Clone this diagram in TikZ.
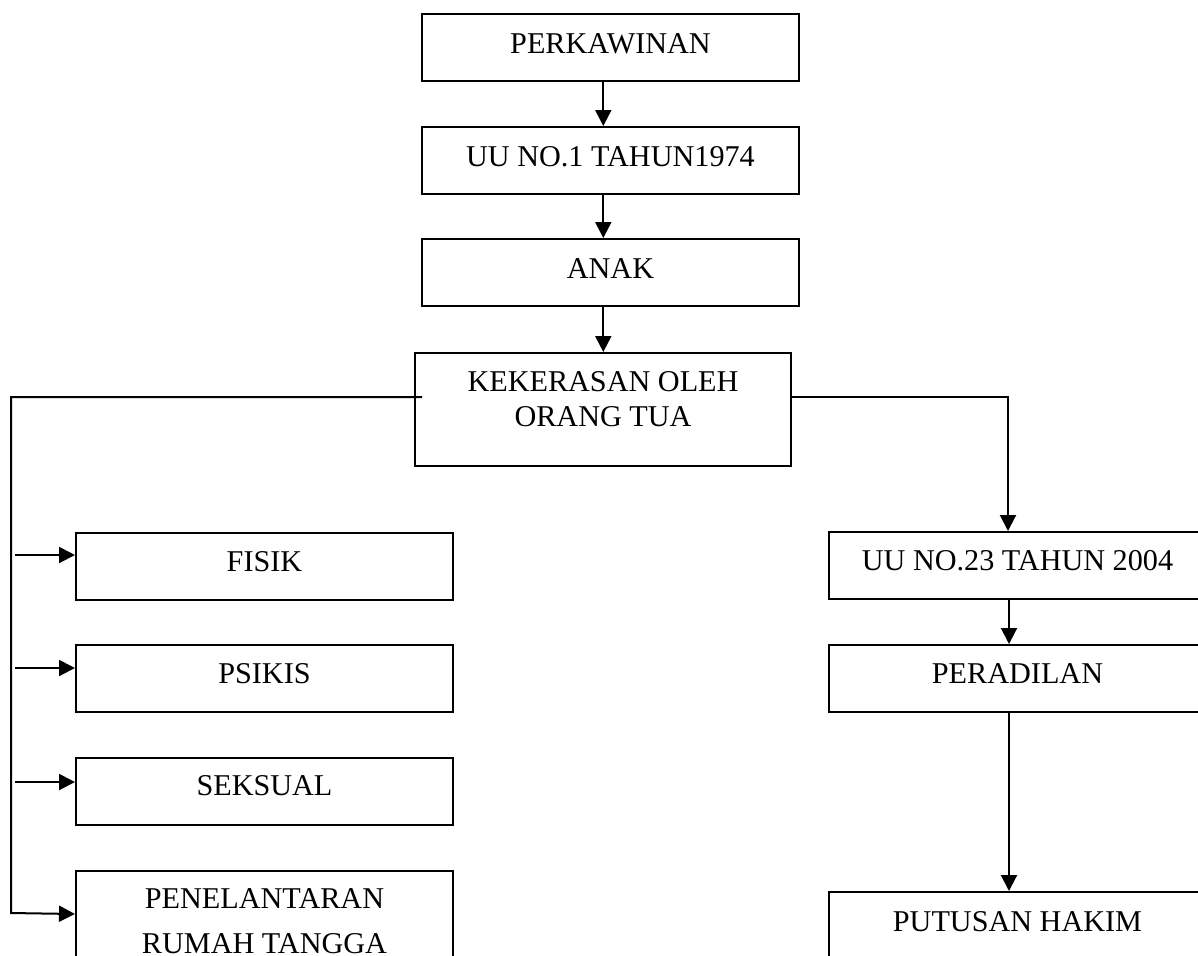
\documentclass[tikz,border=0pt]{standalone}
\usepackage{fontspec}
\setmainfont{Liberation Serif}
\usetikzlibrary{arrows.meta,calc}
\begin{document}
\begin{tikzpicture}[x=0.5pt,y=-0.5pt,
  box/.style={draw,line width=1pt,inner sep=0pt,minimum width=188.5pt,anchor=north west,
    text height=19pt,text depth=14.5pt,font=\fontsize{15.1}{17.5}\selectfont},
  arr/.style={line width=1pt,-{Triangle[length=8pt,width=8pt]}},
  ln/.style={line width=1pt}]
\useasboundingbox (0,0) rectangle (1198,955);
\begin{scope}
\clip (0,0) rectangle (1198,955);
% central column
\node[box,text height=19.5pt,text depth=14pt] (perk) at (421,13) {PERKAWINAN};
\node[box,text height=19.5pt,text depth=14pt] (uu1) at (421,126) {UU NO.1 TAHUN1974};
\node[box,text height=19.5pt,text depth=14pt] (anak) at (421,238) {ANAK};
\node[box,minimum width=188pt,text height=19pt,text depth=37.5pt] (kek) at (414,352)
  {\begin{tabular}[t]{@{}c@{}}KEKERASAN OLEH\\ORANG TUA\end{tabular}};
% left column
\node[box] (fisik) at (75,532) {FISIK};
\node[box] (psikis) at (75,644) {PSIKIS};
\node[box,text height=18.5pt,text depth=15pt] (seks) at (75,757) {SEKSUAL};
\node[box,text height=18.5pt,text depth=38pt] (pen) at (75,870)
  {\begin{tabular}[t]{@{}c@{}}PENELANTARAN\\[5pt]RUMAH TANGGA\end{tabular}};
% right column
\node[box] (uu23) at (828,531) {UU NO.23 TAHUN 2004};
\node[box] (perad) at (828,644) {PERADILAN};
\node[box,text height=19.5pt,text depth=14pt] (put) at (828,891) {PUTUSAN HAKIM};
% central arrows
\draw[arr] ([xshift=-3.6pt]perk.south) -- ([xshift=-3.6pt]uu1.north);
\draw[arr] ([xshift=-3.6pt]uu1.south) -- ([xshift=-3.6pt]anak.north);
\draw[arr] ([xshift=-3.6pt]anak.south) -- ([xshift=-3.6pt]anak.south |- kek.north);
% left trunk
\coordinate (kl) at (422,397);
\coordinate (tt) at (11,397);
\coordinate (tb) at (11,913);
\draw[arr] (kl) -- (tt) -- (tb) -- ([yshift=-22pt]pen.north west);
\coordinate (a1) at (15,555);
\coordinate (a2) at (15,668);
\coordinate (a3) at (15,782);
\draw[arr] (a1) -- (a1 -| fisik.west);
\draw[arr] (a2) -- (a2 -| psikis.west);
\draw[arr] (a3) -- (a3 -| seks.west);
% right branch
\coordinate (kr) at (790,397);
\coordinate (rc) at (1008,397);
\draw[arr] (kr) -- (rc) -- (rc |- uu23.north);
\draw[arr] ([xshift=-4.25pt]uu23.south) -- ([xshift=-4.25pt]perad.north);
\draw[arr] ([xshift=-4.25pt]perad.south) -- ([xshift=-4.25pt]put.north);
\end{scope}
\end{tikzpicture}
\end{document}
